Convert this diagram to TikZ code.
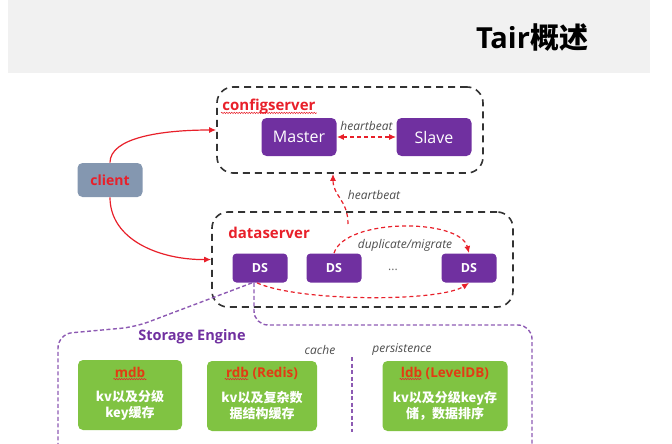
\documentclass[tikz,border=0pt]{standalone}
\usepackage{fontspec}
\setmainfont{Open Sans}
\newfontfamily\cjk{Noto Sans CJK SC}
\usetikzlibrary{arrows.meta, decorations.pathmorphing}

\definecolor{tairpurple}{HTML}{7030A0}
\definecolor{tairgreen}{HTML}{80C342}
\definecolor{tairred}{HTML}{E8202A}
\definecolor{tairorange}{HTML}{E23B14}
\definecolor{clientblue}{HTML}{8497B0}
\definecolor{headgray}{HTML}{F1F1F1}

% red spell-check wave under a named text node
\newcommand{\squig}[1]{\draw[squiggle] ([yshift=-2pt]#1.base west) -- ([yshift=-2pt]#1.base east);}

\begin{document}
\begin{tikzpicture}[
    x=1pt, y=-1pt,
    thick,
    group/.style={draw=black!80, line width=1.6pt, dash pattern=on 7pt off 5pt, rounded corners=16pt},
    server/.style={rounded corners=5pt, fill=tairpurple, text=white, minimum width=75pt, minimum height=38pt, font=\fontsize{16}{18}\selectfont},
    dsbox/.style={rounded corners=4pt, fill=tairpurple, text=white, minimum width=55pt, minimum height=29pt, font=\fontsize{12.5}{14}\selectfont\bfseries},
    engine/.style={rounded corners=5pt, fill=tairgreen, minimum height=70pt},
    enginetitle/.style={inner sep=1pt, text=tairorange, font=\fontsize{13.5}{16}\selectfont\bfseries},
    enginetext/.style={align=center, text=white, font=\fontsize{13}{16}\selectfont\cjk\bfseries},
    label/.style={anchor=west, inner sep=1pt, text=tairred, font=\fontsize{15}{17}\selectfont\bfseries},
    note/.style={text=black!70, font=\fontsize{12}{14}\selectfont\itshape},
    link/.style={tairred, line width=1.2pt, -{Latex[length=7pt,width=6pt]}},
    dlink/.style={link, dash pattern=on 4pt off 3pt},
    purpdash/.style={tairpurple!80, line width=1.4pt, dash pattern=on 4pt off 2.5pt},
    squiggle/.style={tairred, line width=0.5pt, decorate, decoration={snake, amplitude=0.7pt, segment length=2.5pt}},
]
\useasboundingbox (0,0) rectangle (672,444);
\fill[headgray] (8,0) rectangle (650,73);
\node[font=\fontsize{29}{31}\selectfont\bfseries] (title) at (532,38) {Tair{\cjk\bfseries 概述}};

% config server
\node[group, minimum width=266pt, minimum height=86pt] (cfg) at (350,130) {};
\node[label] (cfglabel) at (221,107) {configserver};
\squig{cfglabel}
\node[server] (master) at (299,137) {Master};
\node[server] (slave) at (434,137) {Slave};
\draw[dlink, {Latex[length=7pt,width=6pt]}-{Latex[length=7pt,width=6pt]}] (master) -- node[note, above=2pt]{heartbeat} (slave);

% client
\node[rounded corners=5pt, fill=clientblue, text=tairred, minimum width=65pt, minimum height=34pt,
      font=\fontsize{14}{16}\selectfont\bfseries] (client) at (110,180) {client};

% data server
\node[group, minimum width=301pt, minimum height=95pt] (dsrv) at (362.5,259.5) {};
\node[label] (dslabel) at (227,233) {dataserver};
\node[dsbox] (ds1) at (260,268) {DS};
\node[dsbox] (ds2) at (334,268) {DS};
\node[text=black!60, font=\fontsize{12}{14}\selectfont] (dots) at (393,270) {...};
\node[dsbox] (ds3) at (469,268) {DS};

\draw[link] (client.north) .. controls (110,138) and (160,130) .. (cfg.west);
\draw[link] (client.south) .. controls (110,240) and (160,260) .. (dsrv.west);

\coordinate (hb) at (348,224);
\draw[dlink] (hb) .. controls (348,200) and (333,196) .. ([xshift=-17pt]cfg.south);
\node[note] (hblabel) at (374,195) {heartbeat};

\draw[dlink] (ds2.north) .. controls (345,218) and (460,218) .. (ds3.north);
\node[note] (duplabel) at (405,245) {duplicate/migrate};
\draw[dlink] ([xshift=-3pt]ds1.south) .. controls (300,302) and (440,302) .. (ds3.south);

% storage engine
\draw[purpdash, rounded corners=14pt] ([xshift=-8pt]ds1.south) -- (135,327) -- (58,334) -- (58,446);
\draw[purpdash, rounded corners=14pt] ([xshift=-6pt]ds1.south) -- (254,325) -- (532,325) -- (532,446);
\node[text=tairpurple, font=\fontsize{14.5}{17}\selectfont\bfseries] (selabel) at (192,337) {Storage Engine};
\node[note] (cache) at (320,350) {cache};
\node[note] (persist) at (402,350) {persistence};
\draw[purpdash] (352,357) -- (352,432);

\node[engine, minimum width=104pt] (mdb) at (130,395) {};
\node[enginetitle] (mdbtitle) at (130,372) {mdb};
\squig{mdbtitle}
\node[enginetext] (mdbtext) at (130,405) {kv以及分级\\key缓存};

\node[engine, minimum width=110pt] (rdb) at (262,396) {};
\node[enginetitle] (rdbtitle) at (262,373) {rdb (Redis)};
\draw[squiggle] ([yshift=-2pt]rdbtitle.base west) -- ++(24,0);
\node[enginetext] (rdbtext) at (262,406) {kv以及复杂数\\据结构缓存};

\node[engine, minimum width=125pt] (ldb) at (445,396) {};
\node[enginetitle] (ldbtitle) at (445,373) {ldb (LevelDB)};
\draw[squiggle] ([yshift=-2pt]ldbtitle.base west) -- ++(22,0);
\node[enginetext] (ldbtext) at (445,406) {kv以及分级key存\\储，数据排序};
\end{tikzpicture}
\end{document}
